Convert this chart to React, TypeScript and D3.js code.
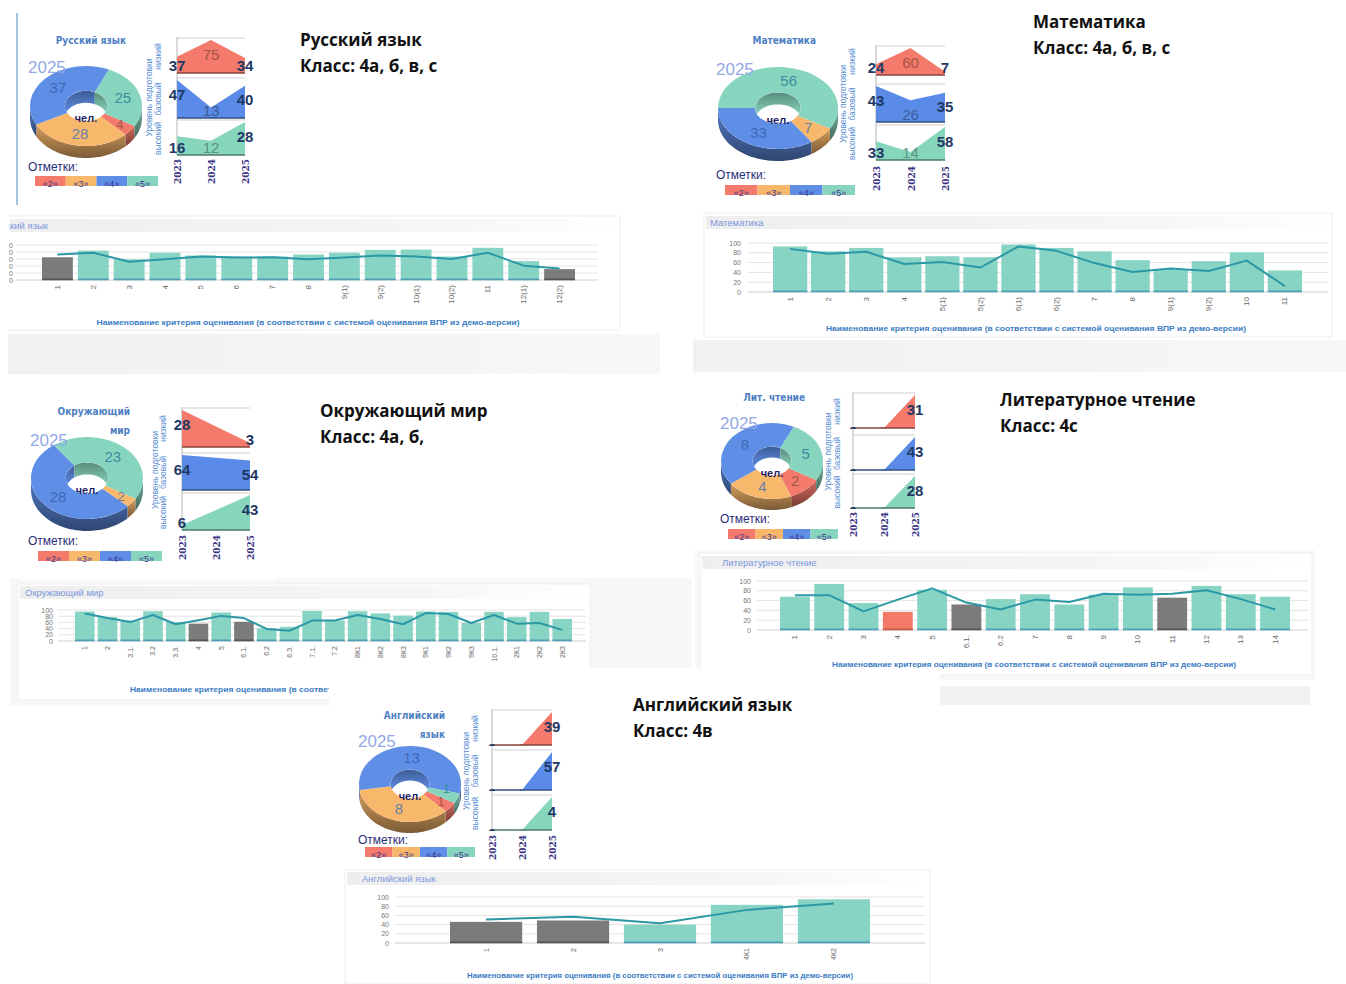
import React from 'react';
import * as d3 from 'd3';

// ---------- shared labels ----------
const gradeLabels = ['«2»', '«3»', '«4»', '«5»'];
const years = ['2023', '2024', '2025'];
const levelNames = ['низкий', 'базовый', 'высокий'];
const tickValues = [0, 20, 40, 60, 80, 100];
const axisTitleText = 'Наименование критерия оценивания (в соответствии с системой оценивания ВПР из демо-версии)';

// ---------- Русский язык ----------
const ruSubject = 'Русский язык';
const ruClass = 'Класс: 4а, б, в, с';
const ruPie = [4, 28, 37, 25];
const ruLow = [37, 75, 34];
const ruBase = [47, 13, 40];
const ruHigh = [16, 12, 28];
const ruCriteria = ['1', '2', '3', '4', '5', '6', '7', '8', '9(1)', '9(2)', '10(1)', '10(2)', '11', '12(1)', '12(2)'];
const ruBars = [65, 84, 59, 78, 70, 67, 67, 73, 78, 86, 87, 67, 92, 54, 31];
const ruLine = [73, 78, 52, 59, 67, 64, 65, 59, 64, 70, 67, 60, 78, 41, 33];
const ruKinds = ['gray', 'teal', 'teal', 'teal', 'teal', 'teal', 'teal', 'teal', 'teal', 'teal', 'teal', 'teal', 'teal', 'teal', 'gray'];

// ---------- Математика ----------
const maSubject = 'Математика';
const maClass = 'Класс: 4а, б, в, с';
const maPie = [0, 7, 33, 56];
const maLow = [24, 60, 7];
const maBase = [43, 26, 35];
const maHigh = [33, 14, 58];
const maCriteria = ['1', '2', '3', '4', '5(1)', '5(2)', '6(1)', '6(2)', '7', '8', '9(1)', '9(2)', '10', '11'];
const maBars = [93, 83, 90, 71, 73, 71, 97, 90, 83, 65, 47, 63, 81, 44];
const maLine = [88, 78, 82, 57, 61, 50, 93, 84, 59, 41, 48, 43, 64, 12];
const maKinds = maBars.map(() => 'teal');

// ---------- Окружающий мир ----------
const okSubject = 'Окружающий мир';
const okClass = 'Класс: 4а, б,';
const okPie = [0, 2, 28, 23];
const okLow = [28, null, 3];
const okBase = [64, null, 54];
const okHigh = [6, null, 43];
const okCriteria = ['1', '2', '3.1.', '3.2', '3.3.', '4', '5', '6.1.', '6.2', '6.3.', '7.1.', '7.2', '8К1', '8К2', '8К3', '9К1', '9К2', '9К3', '10.1.', '2К1', '2К2', '2К3'];
const okBars = [95, 77, 66, 96, 61, 56, 92, 62, 41, 46, 97, 66, 96, 89, 82, 95, 94, 58, 94, 77, 94, 71];
const okLine = [89, 74, 61, 84, 54, 67, 81, 74, 39, 33, 66, 66, 84, 71, 54, 90, 87, 58, 84, 56, 58, 36];
const okKinds = okBars.map((_, i) => (i === 5 || i === 7 ? 'gray' : 'teal'));

// ---------- Литературное чтение ----------
const litSubject = 'Литературное чтение';
const litClass = 'Класс: 4с';
const litPie = [2, 4, 8, 5];
const litLow = [0, 0, 31];
const litBase = [0, 0, 43];
const litHigh = [0, 0, 28];
const litCriteria = ['1', '2', '3', '4', '5', '6.1.', '6.2', '7', '8', '9', '10', '11', '12', '13', '14'];
const litBars = [68, 94, 55, 37, 82, 52, 63, 73, 52, 72, 87, 66, 90, 73, 68];
const litLine = [71, 71, 38, 62, 85, 56, 42, 62, 57, 74, 72, 74, 81, 63, 42];
const litKinds = litBars.map((_, i) => (i === 3 ? 'red' : i === 5 || i === 11 ? 'gray' : 'teal'));

// ---------- Английский язык ----------
const enSubject = 'Английский язык';
const enClass = 'Класс: 4в';
const enPie = [1, 8, 13, 1];
const enLow = [0, 0, 39];
const enBase = [0, 0, 57];
const enHigh = [0, 0, 4];
const enCriteria = ['1', '2', '3', '4К1', '4К2'];
const enBars = [46, 49, 40, 83, 95];
const enLine = [51, 57, 43, 72, 86];
const enKinds = ['gray', 'gray', 'teal', 'teal', 'teal'];

// ---------- styles ----------
const GRADE_COLORS = ['#f47b6b', '#f8b86c', '#5f8ee6', '#88d5bf'];
const LABEL_COLORS = ['#a5574e', '#6a80a6', '#3d69b6', '#3a8d9e'];
const AREA_COLORS = ['#f47a6b', '#5b8be8', '#86d6bd'];
const BAR_COLORS: any = { teal: '#88d4c4', gray: '#7b7b7b', red: '#f47a68' };
const BAR_EDGE: any = { teal: '#4f9fb8', gray: '#555555', red: '#c8584a' };
const SANS = "'Liberation Sans', Arial, sans-serif";
const NARROW = "'Liberation Sans Narrow', 'Liberation Sans', Arial, sans-serif";

function Donut3D({ id, cx, cy, rx, ry, h, values }: any) {
  const k = ry / rx;
  const R = rx;
  const r = rx * 0.38;
  const start = (120 * Math.PI) / 180;
  const arcs = d3.pie<number>().sort(null).value((d) => d).startAngle(start).endAngle(start + 2 * Math.PI)(values);
  const arcGen = d3.arc<any>().innerRadius(r).outerRadius(R);
  const P = (rad: number, t: number, dy = 0) =>
    `${(cx + rad * Math.sin(t)).toFixed(2)},${(cy - rad * Math.cos(t) * k + dy).toFixed(2)}`;
  const ranges = (a: number, b: number, lo0: number) => {
    const res: number[][] = [];
    for (let n = -1; n <= 2; n++) {
      const lo = lo0 + 2 * Math.PI * n;
      const hi = lo + Math.PI;
      const s = Math.max(a, lo);
      const e = Math.min(b, hi);
      if (e > s) res.push([s, e]);
    }
    return res;
  };
  const wall = (rad: number, s: number, e: number) => {
    const n = Math.max(4, Math.ceil((e - s) / 0.04));
    const top: string[] = [];
    const bot: string[] = [];
    for (let i = 0; i <= n; i++) {
      const t = s + ((e - s) * i) / n;
      top.push(P(rad, t));
      bot.push(P(rad, t, h));
    }
    return 'M' + top.join('L') + 'L' + bot.reverse().join('L') + 'Z';
  };
  const rm = (R + r) / 2;
  // label positions with a simple collision nudge for tiny neighbouring slices
  const placed: { x: number; y: number }[] = [];
  const labels = arcs.map((a, i) => {
    if (a.value <= 0) return null;
    const t = (a.startAngle + a.endAngle) / 2;
    const small = a.endAngle - a.startAngle < 0.35;
    const rr = small ? rm + 4 : rm;
    const lx = cx + rr * Math.sin(t);
    let ly = cy - rr * Math.cos(t) * k;
    for (const p of placed) {
      if (Math.abs(p.x - lx) < 10 && Math.abs(p.y - ly) < 13) {
        ly = ly >= p.y ? p.y + 13 : p.y - 13;
      }
    }
    placed.push({ x: lx, y: ly });
    return { i, x: lx, y: ly, v: a.value, small };
  });
  return (
    <g>
      {arcs.map((a, i) =>
        ranges(a.startAngle, a.endAngle, Math.PI / 2).map(([s, e], j) => (
          <path key={`w${i}-${j}`} d={wall(R, s, e)} fill={`url(#wallGrad${i})`} />
        ))
      )}
      <g transform={`translate(${cx},${cy}) scale(1,${k})`}>
        {arcs.map((a, i) => (
          <path key={`t${i}`} d={arcGen(a) || ''} fill={GRADE_COLORS[i]} />
        ))}
      </g>
      <clipPath id={id}>
        <ellipse cx={cx} cy={cy} rx={r} ry={r * k} />
      </clipPath>
      <g clipPath={`url(#${id})`}>
        {arcs.map((a, i) =>
          ranges(a.startAngle, a.endAngle, -Math.PI / 2).map(([s, e], j) => (
            <path key={`iw${i}-${j}`} d={wall(r, s, e)} fill={`url(#innerGrad${i})`} />
          ))
        )}
      </g>
      {labels.map((l) =>
        l ? (
          <text
            key={`l${l.i}`}
            x={l.x}
            y={l.y}
            textAnchor="middle"
            dominantBaseline="central"
            fontFamily={SANS}
            fontSize={l.small ? 13 : 15}
            fill={LABEL_COLORS[l.i]}
          >
            {l.v}
          </text>
        ) : null
      )}
      <text x={cx} y={cy + r * k * 0.8} textAnchor="middle" dominantBaseline="central" fontFamily={SANS} fontWeight="bold" fontSize={11} fill="#1f1f66">
        чел.
      </text>
    </g>
  );
}

function LevelAreas({ id, x0, x1, panes, series, yearTop, tx1, tx2 }: any) {
  const xs = d3.scalePoint<string>().domain(years).range([x0, x1]);
  const top = panes[0][0];
  const bottom = panes[2][1];
  return (
    <g>
      <line x1={x0} x2={x0} y1={top - 3} y2={bottom} stroke="#b5b5b5" strokeWidth={1} />
      {series.map((vals: any[], i: number) => {
        const [pt, pb] = panes[i];
        const pts = vals.map((v, j) => ({ v, yr: years[j] })).filter((d) => d.v !== null);
        const max = d3.max(pts, (d: any) => d.v) || 1;
        const y = d3.scaleLinear().domain([0, max]).range([pb, pt]);
        const area = d3
          .area<any>()
          .x((d) => xs(d.yr) as number)
          .y0(pb)
          .y1((d) => y(d.v));
        const base = d3.color(AREA_COLORS[i])!.darker(1.6).formatHex();
        return (
          <g key={i}>
            <clipPath id={`${id}-p${i}`}>
              <rect x={x0 - 25} y={pt - 2} width={x1 - x0 + 50} height={pb - pt + 3} />
            </clipPath>
            <line x1={x0} x2={x1} y1={pt - 2} y2={pt - 2} stroke="#cfcfcf" strokeWidth={1} />
            <path d={area(pts) || ''} fill={AREA_COLORS[i]} />
            <line x1={x0} x2={x1} y1={pb} y2={pb} stroke={base} strokeWidth={1.6} />
            <g clipPath={`url(#${id}-p${i})`}>
              {pts.map((d: any, j: number) => {
                const py = y(d.v);
                const cyLab = d.v === 0 ? pb + 3 : Math.min(py + 14, pb - 8);
                const middle = d.yr === '2024';
                return (
                  <text
                    key={j}
                    x={xs(d.yr)}
                    y={cyLab}
                    textAnchor="middle"
                    dominantBaseline="central"
                    fontFamily={SANS}
                    fontWeight={middle ? 'normal' : 'bold'}
                    fontSize={15}
                    fill={middle ? d3.color(AREA_COLORS[i])!.darker(1.1).formatHex() : '#1f3866'}
                  >
                    {d.v}
                  </text>
                );
              })}
            </g>
          </g>
        );
      })}
      {years.map((yr) => (
        <text
          key={yr}
          transform={`translate(${(xs(yr) as number) + 1},${yearTop}) rotate(-90)`}
          textAnchor="end"
          dominantBaseline="central"
          fontFamily="'DejaVu Serif', serif"
          fontWeight="bold"
          fontSize={9}
          fill="#3c3585"
        >
          {yr}
        </text>
      ))}
      <text
        transform={`translate(${tx1},${(top + bottom) / 2}) rotate(-90)`}
        textAnchor="middle"
        dominantBaseline="central"
        fontFamily={SANS}
        fontSize={8.5}
        fill="#5a8fd4"
      >
        Уровень подготовки
      </text>
      {levelNames.map((nm, i) => (
        <text
          key={nm}
          transform={`translate(${tx2},${(panes[i][0] + panes[i][1]) / 2}) rotate(-90)`}
          textAnchor="middle"
          dominantBaseline="central"
          fontFamily={SANS}
          fontSize={8.5}
          fill="#5a8fd4"
        >
          {nm}
        </text>
      ))}
    </g>
  );
}

function Panel({ id, c, pie, low, base, high, subject, klass }: any) {
  const lw = c.leg.w / 4;
  return (
    <g>
      <rect x={c.card.x} y={c.card.y} width={c.card.w} height={c.card.h} fill="#ffffff" />
      {c.leftLine && <line x1={c.leftLine} x2={c.leftLine} y1={c.card.y + 3} y2={c.card.y + c.card.h - 3} stroke="#8ab0cf" strokeWidth={1.5} />}
      {c.titleLines.map((t: string, i: number) => (
        <text key={i} x={c.titleX} y={c.titleY + i * 19} textAnchor="end" fontFamily="'DejaVu Sans Condensed', 'DejaVu Sans', sans-serif" fontWeight="bold" fontSize={10} fill="#4d7fc4">
          {t}
        </text>
      ))}
      <Donut3D id={`${id}-hole`} {...c.donut} values={pie} />
      <text x={c.yearX} y={c.yearY} fontFamily={SANS} fontSize={17} fill="#93a8e6">
        2025
      </text>
      <text x={c.legendX} y={c.legendY} fontFamily={SANS} fontSize={12} fill="#2c2c7c">
        Отметки:
      </text>
      {gradeLabels.map((g, i) => (
        <g key={g}>
          <rect x={c.leg.x + i * lw} y={c.leg.y} width={lw} height={c.leg.h} fill={GRADE_COLORS[i]} />
          <text x={c.leg.x + i * lw + lw / 2} y={c.leg.y + c.leg.h + 1} textAnchor="middle" fontFamily={SANS} fontSize={9} fill="#3a2f8c">
            {g}
          </text>
        </g>
      ))}
      <LevelAreas id={`${id}-areas`} {...c.area} series={[low, base, high]} />
      <text x={c.text.x} y={c.text.y} fontFamily="'Open Sans', sans-serif" fontWeight="bold" fontSize={17} fill="#111">
        {subject}
      </text>
      <text x={c.text.x} y={c.text.y + 26} fontFamily="'Open Sans', sans-serif" fontWeight="bold" fontSize={17} fill="#111">
        {klass}
      </text>
    </g>
  );
}

function BarChart({ id, c, cats, bars, line, kinds, title }: any) {
  const x = d3.scaleBand<string>().domain(cats).range([c.x0, c.x1]).paddingInner(c.pad).paddingOuter(0);
  const y = d3.scaleLinear().domain([0, 100]).range([c.yBot, c.yTop]);
  const bw = x.bandwidth();
  const lineGen = d3
    .line<number>()
    .x((_, i) => (x(cats[i]) as number) + bw / 2)
    .y((d) => y(d));
  return (
    <g clipPath={c.clipX !== undefined ? `url(#${id}-clip)` : undefined}>
      {c.clipX !== undefined && (
        <clipPath id={`${id}-clip`}>
          <rect x={c.clipX} y={0} width={1346} height={984} />
        </clipPath>
      )}
      <rect x={c.card.x} y={c.card.y} width={c.card.w} height={c.card.h} fill="#ffffff" stroke="#eeeeee" />
      <rect x={c.card.x + 2} y={c.titleY - 10} width={c.card.w - 4} height={13} fill="url(#titleBand)" />
      <text x={c.titleX} y={c.titleY} textAnchor={c.titleAnchor || 'start'} fontFamily={SANS} fontSize={9.5} fill="#7b97dd">
        {title}
      </text>
      {tickValues.map((t) => (
        <g key={t}>
          <line x1={c.gridX0} x2={c.gridX1} y1={y(t)} y2={y(t)} stroke={t === 0 ? '#cfcfcf' : '#e4e4e4'} strokeWidth={1} />
          <text x={c.tickX} y={y(t)} textAnchor="end" dominantBaseline="central" fontFamily={SANS} fontSize={7} fill="#777">
            {t}
          </text>
        </g>
      ))}
      {bars.map((v: number, i: number) => {
        const bx = x(cats[i]) as number;
        return (
          <g key={i}>
            <rect x={bx} y={y(v)} width={bw} height={y(0) - y(v)} fill={BAR_COLORS[kinds[i]]} />
            <rect x={bx} y={y(0) - 1.5} width={bw} height={1.8} fill={BAR_EDGE[kinds[i]]} />
          </g>
        );
      })}
      <path d={lineGen(line) || ''} fill="none" stroke="#2b98a6" strokeWidth={2} strokeLinejoin="round" />
      {cats.map((cat: string) => (
        <text
          key={cat}
          transform={`translate(${(x(cat) as number) + bw / 2},${c.yBot + 5}) rotate(-90)`}
          textAnchor="end"
          dominantBaseline="central"
          fontFamily={SANS}
          fontSize={c.labelSize}
          fill="#666"
        >
          {cat}
        </text>
      ))}
      <text
        x={c.axisTitle.x}
        y={c.axisTitle.y}
        textAnchor="middle"
        fontFamily={NARROW}
        fontWeight="bold"
        fontSize={8}
        fill="#3b7cc4"
        textLength={c.axisTitle.len}
        lengthAdjust="spacingAndGlyphs"
      >
        {axisTitleText}
      </text>
    </g>
  );
}

// ---------- layouts ----------
const ruPanel = {
  card: { x: 15, y: 10, w: 242, h: 198 },
  leftLine: 17,
  titleLines: ['Русский язык'],
  titleX: 126,
  titleY: 44,
  yearX: 28,
  yearY: 73,
  donut: { cx: 86, cy: 106, rx: 56, ry: 40, h: 12 },
  legendX: 28,
  legendY: 171,
  leg: { x: 35, y: 176, w: 123, h: 10 },
  area: { x0: 177, x1: 245, panes: [[40, 73], [80, 118], [122, 155]], yearTop: 159, tx1: 149, tx2: 158 },
  text: { x: 300, y: 46 },
};
const maPanel = {
  card: { x: 700, y: 8, w: 263, h: 204 },
  titleLines: ['Математика'],
  titleX: 816,
  titleY: 44,
  yearX: 716,
  yearY: 75,
  donut: { cx: 778, cy: 108, rx: 60, ry: 41, h: 12 },
  legendX: 716,
  legendY: 179,
  leg: { x: 725, y: 185, w: 130, h: 10 },
  area: { x0: 876, x1: 945, panes: [[48, 75], [86, 122], [127, 160]], yearTop: 166, tx1: 843, tx2: 852 },
  text: { x: 1033, y: 28 },
};
const okPanel = {
  card: { x: 20, y: 385, w: 255, h: 195 },
  titleLines: ['Окружающий', 'мир'],
  titleX: 130,
  titleY: 415,
  yearX: 30,
  yearY: 446,
  donut: { cx: 87, cy: 478, rx: 56, ry: 41, h: 12 },
  legendX: 28,
  legendY: 545,
  leg: { x: 38, y: 551, w: 124, h: 10 },
  area: { x0: 182, x1: 250, panes: [[410, 447], [455, 490], [495, 530]], yearTop: 535, tx1: 155, tx2: 163 },
  text: { x: 320, y: 417 },
};
const litPanel = {
  card: { x: 700, y: 380, w: 228, h: 170 },
  titleLines: ['Лит. чтение'],
  titleX: 805,
  titleY: 401,
  yearX: 720,
  yearY: 429,
  donut: { cx: 772, cy: 461, rx: 51, ry: 38, h: 11 },
  legendX: 720,
  legendY: 523,
  leg: { x: 728, y: 529, w: 110, h: 10 },
  area: { x0: 853, x1: 915, panes: [[395, 428], [437, 470], [476, 508]], yearTop: 512, tx1: 828, tx2: 837 },
  text: { x: 1000, y: 406 },
};
const enPanel = {
  card: { x: 345, y: 700, w: 240, h: 168 },
  titleLines: ['Английский', 'язык'],
  titleX: 445,
  titleY: 719,
  yearX: 358,
  yearY: 747,
  donut: { cx: 410, cy: 784, rx: 51, ry: 38, h: 11 },
  legendX: 358,
  legendY: 844,
  leg: { x: 365, y: 847, w: 110, h: 10 },
  area: { x0: 492, x1: 552, panes: [[712, 745], [752, 790], [797, 830]], yearTop: 835, tx1: 466, tx2: 475 },
  text: { x: 633, y: 711 },
};

const ruBarCfg = {
  x0: 42, x1: 575, yTop: 245, yBot: 280, tickX: 13, gridX0: 16, gridX1: 598, pad: 0.14, labelSize: 8,
  titleX: 48, titleY: 229, titleAnchor: 'end', card: { x: 8, y: 216, w: 612, h: 114 },
  axisTitle: { x: 308, y: 325, len: 423 }, clipX: 9,
};
const maBarCfg = {
  x0: 773, x1: 1302, yTop: 243, yBot: 292, tickX: 741, gridX0: 748, gridX1: 1328, pad: 0.1, labelSize: 8,
  titleX: 710, titleY: 226, card: { x: 704, y: 213, w: 628, h: 124 },
  axisTitle: { x: 1036, y: 331, len: 420 },
};
const okBarCfg = {
  x0: 75, x1: 572, yTop: 610, yBot: 641, tickX: 53, gridX0: 58, gridX1: 586, pad: 0.14, labelSize: 7,
  titleX: 25, titleY: 596, card: { x: 18, y: 584, w: 572, h: 116 },
  axisTitle: { x: 340, y: 692, len: 420 },
};
const litBarCfg = {
  x0: 780, x1: 1290, yTop: 581, yBot: 630, tickX: 751, gridX0: 757, gridX1: 1308, pad: 0.13, labelSize: 8,
  titleX: 722, titleY: 566, card: { x: 700, y: 553, w: 612, h: 122 },
  axisTitle: { x: 1034, y: 667, len: 404 },
};
const enBarCfg = {
  x0: 450, x1: 870, yTop: 897, yBot: 943, tickX: 389, gridX0: 395, gridX1: 925, pad: 0.17, labelSize: 7,
  titleX: 362, titleY: 882, card: { x: 345, y: 870, w: 585, h: 114 },
  axisTitle: { x: 660, y: 978, len: 386 },
};

export default function App() {
  return (
    <svg
      width={1346}
      height={984}
      viewBox="0 0 1346 984"
      style={{ position: 'absolute', left: 0, top: 0, background: '#ffffff', display: 'block' }}
    >
      <defs>
        {GRADE_COLORS.map((col, i) => (
          <linearGradient key={`wg${i}`} id={`wallGrad${i}`} x1="0" y1="0" x2="0" y2="1">
            <stop offset="0" stopColor={d3.color(col)!.darker(0.4).formatHex()} />
            <stop offset="1" stopColor={d3.color(col)!.darker(2).formatHex()} />
          </linearGradient>
        ))}
        {GRADE_COLORS.map((col, i) => (
          <linearGradient key={`ig${i}`} id={`innerGrad${i}`} x1="0" y1="0" x2="0" y2="1">
            <stop offset="0" stopColor={d3.color(col)!.darker(1.2).formatHex()} />
            <stop offset="1" stopColor={d3.color(col)!.brighter(0.2).formatHex()} />
          </linearGradient>
        ))}
        <linearGradient id="titleBand" x1="0" y1="0" x2="1" y2="0">
          <stop offset="0" stopColor="#eeeeee" />
          <stop offset="0.7" stopColor="#f6f6f6" />
          <stop offset="1" stopColor="#ffffff" />
        </linearGradient>
        <linearGradient id="grayBand" x1="0" y1="0" x2="1" y2="0">
          <stop offset="0" stopColor="#f1f1f1" />
          <stop offset="1" stopColor="#f7f7f7" />
        </linearGradient>
      </defs>

      {/* faint slide backgrounds */}
      <rect x={8} y={334} width={652} height={40} fill="url(#grayBand)" />
      <rect x={693} y={340} width={653} height={32} fill="url(#grayBand)" />
      <rect x={10} y={578} width={682} height={128} fill="#f7f7f7" />
      <rect x={695} y={550} width={620} height={130} fill="#f8f8f8" />
      <rect x={940} y={686} width={370} height={19} fill="#f2f2f2" />

      <Panel id="ru" c={ruPanel} pie={ruPie} low={ruLow} base={ruBase} high={ruHigh} subject={ruSubject} klass={ruClass} />
      <Panel id="ma" c={maPanel} pie={maPie} low={maLow} base={maBase} high={maHigh} subject={maSubject} klass={maClass} />
      <Panel id="ok" c={okPanel} pie={okPie} low={okLow} base={okBase} high={okHigh} subject={okSubject} klass={okClass} />
      <Panel id="lit" c={litPanel} pie={litPie} low={litLow} base={litBase} high={litHigh} subject={litSubject} klass={litClass} />

      <BarChart id="ruBar" c={ruBarCfg} cats={ruCriteria} bars={ruBars} line={ruLine} kinds={ruKinds} title={ruSubject} />
      <BarChart id="maBar" c={maBarCfg} cats={maCriteria} bars={maBars} line={maLine} kinds={maKinds} title={maSubject} />
      <BarChart id="okBar" c={okBarCfg} cats={okCriteria} bars={okBars} line={okLine} kinds={okKinds} title={okSubject} />
      <BarChart id="litBar" c={litBarCfg} cats={litCriteria} bars={litBars} line={litLine} kinds={litKinds} title={litSubject} />

      {/* English slide lies on top of the others */}
      <rect x={329} y={668} width={611} height={316} fill="#ffffff" />
      <Panel id="en" c={enPanel} pie={enPie} low={enLow} base={enBase} high={enHigh} subject={enSubject} klass={enClass} />
      <BarChart id="enBar" c={enBarCfg} cats={enCriteria} bars={enBars} line={enLine} kinds={enKinds} title={enSubject} />
    </svg>
  );
}
